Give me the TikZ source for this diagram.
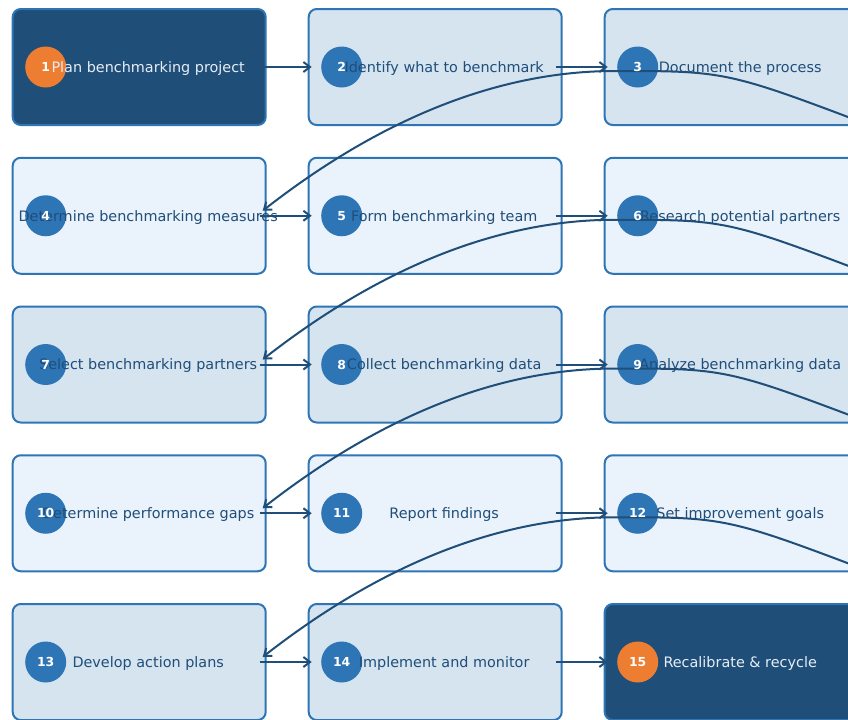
\documentclass[tikz,border=0pt]{standalone}
\usepackage{fontspec}
\setmainfont{DejaVu Sans}
\usetikzlibrary{arrows.meta,calc}
\definecolor{navy}{HTML}{1F4E79}
\definecolor{edge}{HTML}{2E75B6}
\definecolor{pale}{HTML}{D6E4F0}
\definecolor{paler}{HTML}{EAF2FB}
\definecolor{badge}{HTML}{2E75B6}
\definecolor{accent}{HTML}{ED7D31}
\definecolor{lighttext}{HTML}{E6EDF5}
\begin{document}
\begin{tikzpicture}[x=0.75pt,y=-0.75pt,
  box/.style={draw=edge, line width=1.5pt, rounded corners=6pt,
    minimum width=189.75pt, minimum height=87pt, inner sep=0pt, outer sep=0pt},
  disc/.style={circle, minimum size=30.75pt, inner sep=0pt, outer sep=0pt},
  num/.style={inner sep=0pt, text=white, font=\fontsize{9.3}{11}\selectfont\bfseries},
  lbl/.style={anchor=base, inner sep=0pt, font=\fontsize{10.8}{13}\selectfont},
  flow/.style={draw=navy, line width=1.5pt, -{Straight Barb[length=5pt,width=7.5pt]}},
]
\useasboundingbox (0,0) rectangle (848,719);

% step boxes and their badges, three per row
\foreach \n/\c/\r/\bg/\bd in {
  1/0/0/navy/accent, 2/1/0/pale/badge, 3/2/0/pale/badge,
  4/0/1/paler/badge, 5/1/1/paler/badge, 6/2/1/paler/badge,
  7/0/2/pale/badge, 8/1/2/pale/badge, 9/2/2/pale/badge,
  10/0/3/paler/badge, 11/1/3/paler/badge, 12/2/3/paler/badge,
  13/0/4/pale/badge, 14/1/4/pale/badge, 15/2/4/navy/accent}{
  \node[box, fill=\bg] (b\n) at ({139.2+296*\c}, {67+148.75*\r}) {};
  \node[disc, fill=\bd] (c\n) at ($(b\n.center)+(-93.5,0)$) {};
}

% links between consecutive steps in a row
\foreach \a/\b in {1/2,2/3,4/5,5/6,7/8,8/9,10/11,11/12,13/14,14/15}
  \draw[flow] ($(b\a.east)+(-6,0)$) -- ($(b\b.west)+(3,0)$);

% wrap-around links from the end of one row to the start of the next
\foreach \a/\b in {3/4,6/7,9/10,12/13}
  \draw[flow] ($(b\a.east)+(22,62)$)
    .. controls ($(b\a.east)+(-131,4)$) .. ($(b\a.east)+(-243,4)$)
    .. controls ($(b\a.east)+(-358,4)$) and ($(b\b.east)+(116,-98)$)
    .. ($(b\b.east)+(-3,-5)$);

% step titles and numbers
\foreach \n/\fg/\txt in {
  1/lighttext/Plan benchmarking project,
  2/navy/Identify what to benchmark,
  3/navy/Document the process,
  4/navy/Determine benchmarking measures,
  5/navy/Form benchmarking team,
  6/navy/Research potential partners,
  7/navy/Select benchmarking partners,
  8/navy/Collect benchmarking data,
  9/navy/Analyze benchmarking data,
  10/navy/Determine performance gaps,
  11/navy/Report findings,
  12/navy/Set improvement goals,
  13/navy/Develop action plans,
  14/navy/Implement and monitor,
  15/lighttext/Recalibrate \& recycle}{
  \node[lbl, text=\fg] (t\n) at ($(b\n.center)+(9,5.3)$) {\txt};
  \node[num] (n\n) at (c\n.center) {\n};
}
\end{tikzpicture}
\end{document}
